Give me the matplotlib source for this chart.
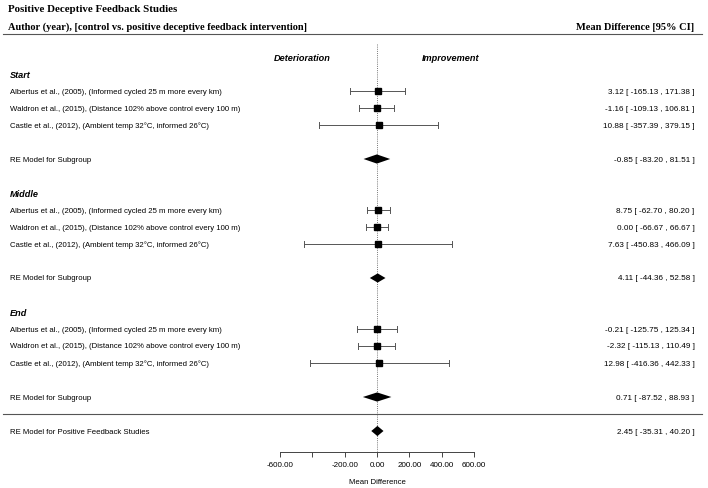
import numpy as np
import matplotlib.pyplot as plt
from matplotlib.patches import Polygon

# study rows per subgroup
groups = ['Start', 'Middle', 'End']
studies = ['Albertus et al., (2005), (Informed cycled 25 m more every km)',
           'Waldron et al., (2015), (Distance 102% above control every 100 m)',
           'Castle et al., (2012), (Ambient temp 32°C, informed 26°C)']

est = [[3.12, -1.16, 10.88], [8.75, 0.00, 7.63], [-0.21, -2.32, 12.98]]
lo = [[-165.13, -109.13, -357.39], [-62.70, -66.67, -450.83], [-125.75, -115.13, -416.36]]
hi = [[171.38, 106.81, 379.15], [80.20, 66.67, 466.09], [125.34, 110.49, 442.33]]

sub_est = [-0.85, 4.11, 0.71]
sub_lo = [-83.20, -44.36, -87.52]
sub_hi = [81.51, 52.58, 88.93]

all_est, all_lo, all_hi = 2.45, -35.31, 40.20

xticks = [-600, -400, -200, 0, 200, 400, 600]
xticklabels = ['-600.00', '', '-200.00', '0.00', '200.00', '400.00', '600.00']

sans = 'Liberation Sans'
serif = 'Liberation Serif'

fig = plt.figure(figsize=(7.08, 4.89), dpi=100)
ax = fig.add_axes([0, 0, 1, 1])
scale = 97 / 600  # px per unit
ax.set_xlim(-377 / scale, (708 - 377) / scale)
ax.set_ylim((489 - 75) / 17, -75 / 17)

tr = ax.get_yaxis_transform()


def fmt(e, l, h):
    return f'{e:.2f} [ {l:.2f} , {h:.2f} ]'


def diamond(e, l, h, y, hh=0.27):
    ax.add_patch(Polygon([[l, y], [e, y - hh], [h, y], [e, y + hh]],
                         closed=True, color='black', lw=0))


tsize = 5.6
rsize = 5.9
row = 0
for g in range(3):
    ax.text(0.014, row, groups[g], transform=tr, fontsize=6.6, fontweight='bold',
            fontstyle='italic', family=sans, va='center')
    for i in range(3):
        y = row + 1 + i
        ax.text(0.014, y, studies[i], transform=tr, fontsize=tsize, family=sans, va='center')
        ax.plot([lo[g][i], hi[g][i]], [y, y], color='#555555', lw=0.7)
        for x in (lo[g][i], hi[g][i]):
            ax.plot([x, x], [y - 0.17, y + 0.17], color='#555555', lw=0.7)
        ax.plot(est[g][i], y, marker='s', color='black', ms=3.7)
        ax.text(0.981, y, fmt(est[g][i], lo[g][i], hi[g][i]), transform=tr,
                fontsize=rsize, family=sans, va='center', ha='right')
    y = row + 5
    ax.text(0.014, y, 'RE Model for Subgroup', transform=tr, fontsize=tsize, family=sans, va='center')
    diamond(sub_est[g], sub_lo[g], sub_hi[g], y)
    ax.text(0.981, y, fmt(sub_est[g], sub_lo[g], sub_hi[g]), transform=tr,
            fontsize=rsize, family=sans, va='center', ha='right')
    row += 7

# overall
ax.plot([0.004, 0.992], [20, 20], transform=tr, color='#555555', lw=0.8)
ax.text(0.014, 21, 'RE Model for Positive Feedback Studies', transform=tr,
        fontsize=tsize, family=sans, va='center')
diamond(all_est, all_lo, all_hi, 21, hh=0.3)
ax.text(0.981, 21, fmt(all_est, all_lo, all_hi), transform=tr,
        fontsize=rsize, family=sans, va='center', ha='right')

# reference line
ax.plot([0, 0], [-1.75, 22.2], color='#777777', lw=0.7, ls=(0, (1, 1.2)), zorder=0)

# headers
ax.text(0.012, -3.85, 'Positive Deceptive Feedback Studies', transform=tr,
        fontsize=7.8, fontweight='bold', family=serif, va='center')
ax.text(0.012, -2.8, 'Author (year), [control vs. positive deceptive feedback intervention]',
        transform=tr, fontsize=7.5, fontweight='bold', family=serif, va='center')
ax.text(0.981, -2.8, 'Mean Difference [95% CI]', transform=tr,
        fontsize=7.5, fontweight='bold', family=serif, va='center', ha='right')
ax.plot([0.004, 0.992], [-2.35, -2.35], transform=tr, color='#555555', lw=0.8)
ax.text(-460, -0.95, 'Deterioration', fontsize=6.6, fontweight='bold',
        fontstyle='italic', family=sans, va='center', ha='center')
ax.text(455, -0.95, 'Improvement', fontsize=6.6, fontweight='bold',
        fontstyle='italic', family=sans, va='center', ha='center')

# x axis
for s in ['top', 'left', 'right']:
    ax.spines[s].set_visible(False)
ax.spines['bottom'].set_position(('data', 22.25))
ax.spines['bottom'].set_bounds(-600, 600)
ax.spines['bottom'].set_linewidth(0.7)
ax.spines['bottom'].set_color('#444444')
ax.set_xticks(xticks)
ax.set_xticklabels(xticklabels, fontsize=5.8, family=sans)
ax.tick_params(axis='x', length=3.5, width=0.7, color='#444444', pad=3)
ax.set_yticks([])
ax.text(0, 24.0, 'Mean Difference', fontsize=tsize, family=sans, ha='center', va='center')

fig.savefig('out.png', dpi=100)
